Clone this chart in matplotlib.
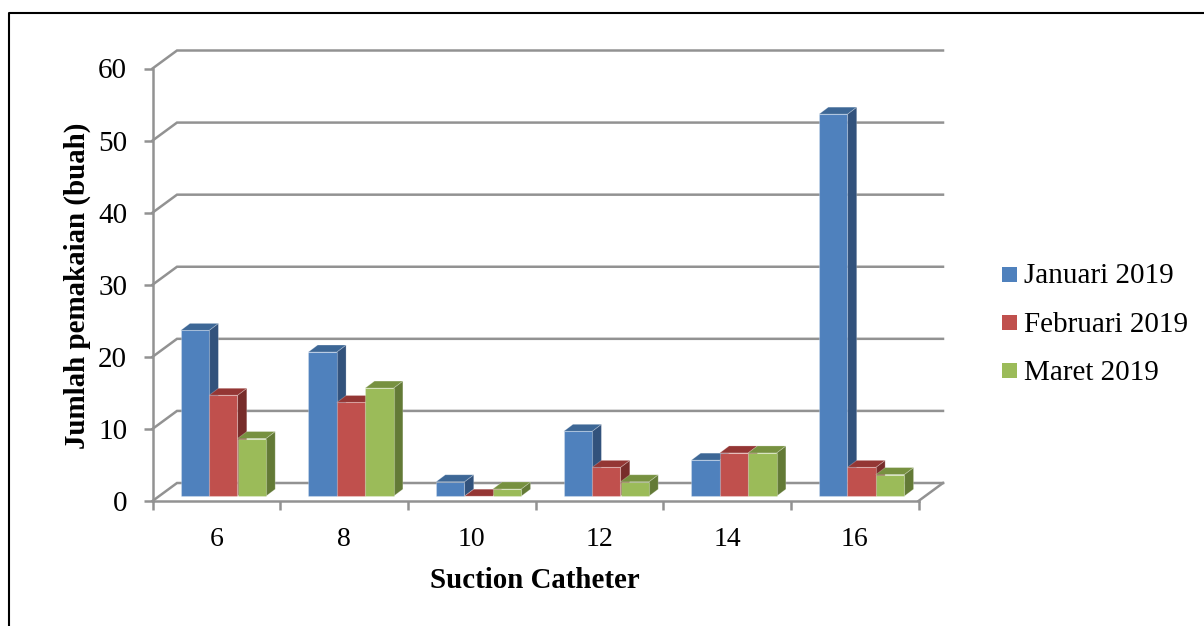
import matplotlib
matplotlib.use("Agg")
import matplotlib.pyplot as plt
from matplotlib.patches import Polygon, Rectangle
from matplotlib.lines import Line2D

categories = ['6', '8', '10', '12', '14', '16']
januari = [23, 20, 2, 9, 5, 53]
februari = [14, 13, 0, 4, 6, 4]
maret = [8, 15, 1, 2, 6, 3]
series_names = ['Januari 2019', 'Februari 2019', 'Maret 2019']
y_ticks = [0, 10, 20, 30, 40, 50, 60]

W, H = 1204, 626
GRID = '#929292'

plt.rcParams['font.family'] = ['Liberation Serif', 'DejaVu Serif']

fig = plt.figure(figsize=(W / 100, H / 100), dpi=100)

# front plane of the fake 3D box, in pixels
left, right, top, bottom = 152.5, 918.5, 68.5, 501
ax = fig.add_axes([left / W, 1 - bottom / H, (right - left) / W, (bottom - top) / H])
ax.set_xlim(0, 6)
ax.set_ylim(0, 60)

px = 6 / (right - left)
py = 60 / (bottom - top)

# wall offset
wall_dx, wall_dy = 24.5 * px, 18 * py

for v in y_ticks:
    ax.plot([0, wall_dx, 6 + wall_dx], [v, v + wall_dy, v + wall_dy],
            color=GRID, lw=1.8, clip_on=False, zorder=1, solid_joinstyle='miter')
ax.plot([6, 6 + wall_dx], [0, wall_dy], color=GRID, lw=1.8, clip_on=False, zorder=1)

# bars
bar_w = 28.4 * px
gap = 28.2 * px
base = 4.8 * py
depth_x, depth_y = 9.3 * px, 7 * py
faces = [('#4f81bd', '#3d6796', '#32527c'),
         ('#c0504d', '#943634', '#772c2a'),
         ('#9bbb59', '#779140', '#637a36')]
edge = (1, 1, 1, 0.25)

for i in range(len(categories)):
    for j, values in enumerate([januari, februari, maret]):
        x0 = i + gap + j * bar_w
        x1 = x0 + bar_w
        y0 = base
        y1 = base + values[i]
        front, upper, side = faces[j]
        z = 3 + i + j * 0.1
        ax.add_patch(Polygon([[x1, y0], [x1 + depth_x, y0 + depth_y],
                              [x1 + depth_x, y1 + depth_y], [x1, y1]],
                             fc=side, ec=edge, lw=0.6, clip_on=False, zorder=z))
        ax.add_patch(Polygon([[x0, y1], [x0 + depth_x, y1 + depth_y],
                              [x1 + depth_x, y1 + depth_y], [x1, y1]],
                             fc=upper, ec=edge, lw=0.6, clip_on=False, zorder=z))
        if values[i] > 0:
            ax.add_patch(Rectangle((x0, y0), bar_w, values[i], fc=front, ec=edge,
                                   lw=0.8, clip_on=False, zorder=z + 0.05))

# axes
for s in ['top', 'right']:
    ax.spines[s].set_visible(False)
for s in ['left', 'bottom']:
    ax.spines[s].set_color(GRID)
    ax.spines[s].set_linewidth(1.8)
    ax.spines[s].set_zorder(2)
ax.patch.set_visible(False)

ax.set_yticks(y_ticks)
ax.set_xticks(range(7))
ax.set_xticklabels([])
ax.set_xticks([i + 0.5 for i in range(6)], categories, minor=True)
ax.tick_params(axis='both', which='major', color=GRID, width=1.8, length=6.2)
ax.tick_params(axis='y', labelsize=21, pad=12)
ax.tick_params(axis='x', which='minor', length=0, labelsize=20, pad=19)

fig.text(535 / W, 1 - 580 / H, 'Suction Catheter', fontsize=20.8, fontweight='bold',
         ha='center', va='center')
fig.text(77 / W, 1 - 286 / H, 'Jumlah pemakaian (buah)', fontsize=20.9, fontweight='bold',
         rotation=90, ha='center', va='center')

# legend
leg_y = [274.5, 322.5, 370.5]
leg_base = [283, 331.5, 380]
for name, y, b, (c, _, _) in zip(series_names, leg_y, leg_base, faces):
    fig.add_artist(Rectangle((1002 / W, 1 - (y + 7.5) / H), 15 / W, 15 / H, fc=c, ec='none',
                             transform=fig.transFigure))
    fig.text(1024 / W, 1 - b / H, name, fontsize=21, ha='left', va='baseline')

# border round the picture
bx = [9 / W, 9 / W, 1]
by = [0, 1 - 13 / H, 1 - 13 / H]
fig.add_artist(Line2D(bx, by, color='black', lw=1.5, transform=fig.transFigure))

fig.savefig('out.png', dpi=100)
